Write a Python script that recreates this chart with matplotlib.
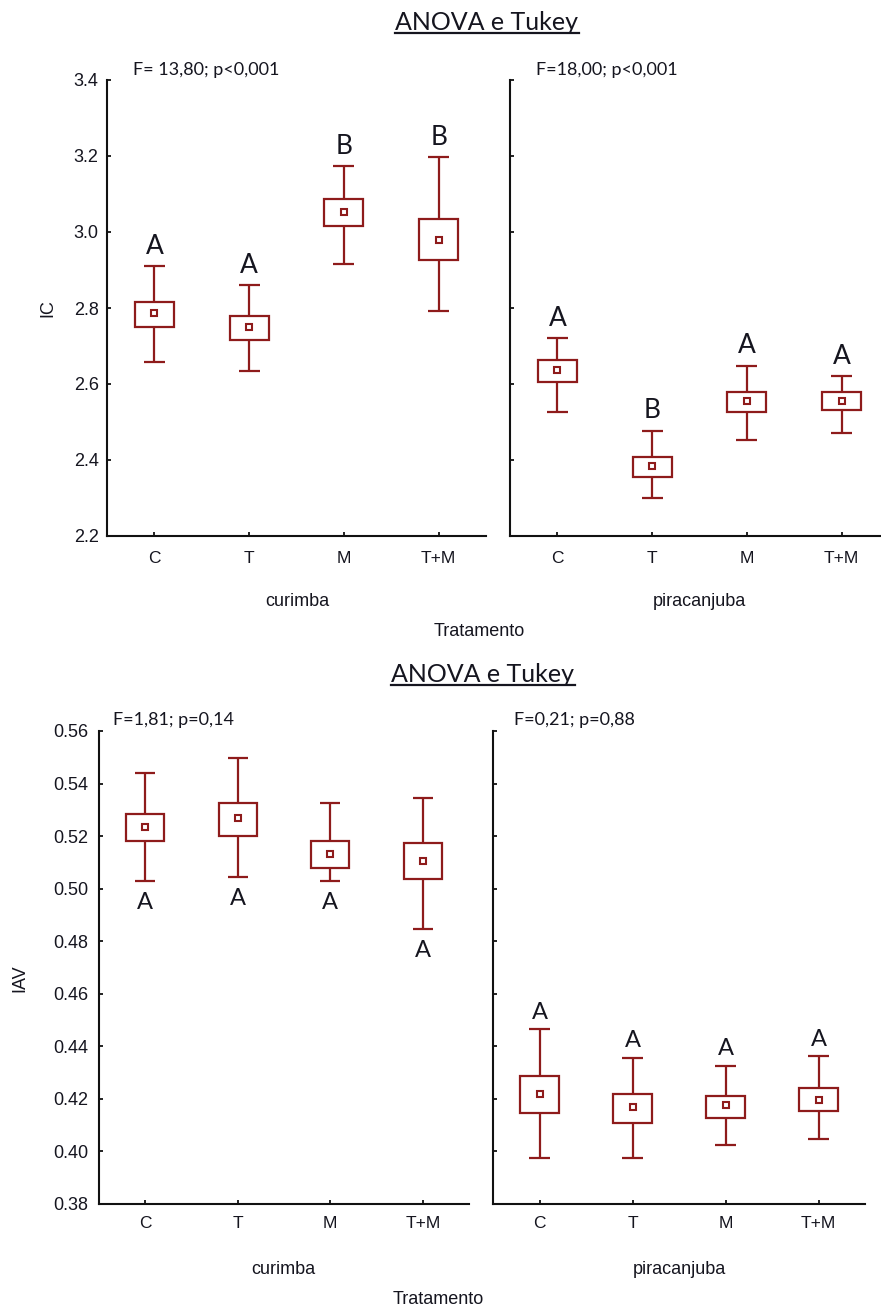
import matplotlib
matplotlib.use('Agg')
import matplotlib.pyplot as plt
from matplotlib.lines import Line2D
import numpy as np

cats = ['C', 'T', 'M', 'T+M']

# IC - curimba
ic_cur_mean = [2.788, 2.749, 3.053, 2.980]
ic_cur_box_lo = [2.749, 2.716, 3.016, 2.926]
ic_cur_box_hi = [2.816, 2.779, 3.086, 3.035]
ic_cur_wlo = [2.658, 2.634, 2.916, 2.791]
ic_cur_whi = [2.911, 2.861, 3.174, 3.197]
ic_cur_let = ['A', 'A', 'B', 'B']

# IC - piracanjuba
ic_pir_mean = [2.638, 2.384, 2.555, 2.555]
ic_pir_box_lo = [2.606, 2.355, 2.527, 2.532]
ic_pir_box_hi = [2.662, 2.408, 2.580, 2.580]
ic_pir_wlo = [2.527, 2.301, 2.453, 2.471]
ic_pir_whi = [2.721, 2.477, 2.648, 2.620]
ic_pir_let = ['A', 'B', 'A', 'A']

# IAV - curimba
iav_cur_mean = [0.5235, 0.5270, 0.5131, 0.5105]
iav_cur_box_lo = [0.5180, 0.5201, 0.5077, 0.5035]
iav_cur_box_hi = [0.5284, 0.5325, 0.5180, 0.5173]
iav_cur_wlo = [0.5030, 0.5043, 0.5030, 0.4845]
iav_cur_whi = [0.5441, 0.5496, 0.5325, 0.5346]
iav_cur_let = ['A', 'A', 'A', 'A']

# IAV - piracanjuba
iav_pir_mean = [0.4217, 0.4169, 0.4175, 0.4197]
iav_pir_box_lo = [0.4147, 0.4108, 0.4128, 0.4153]
iav_pir_box_hi = [0.4287, 0.4217, 0.4211, 0.4240]
iav_pir_wlo = [0.3976, 0.3976, 0.4025, 0.4046]
iav_pir_whi = [0.4465, 0.4356, 0.4326, 0.4362]
iav_pir_let = ['A', 'A', 'A', 'A']

RED = '#8e1b1b'
TXT = '#15151f'
W, H = 881, 1310
TICKFONT = 'Liberation Sans'
ANNFONT = 'Lato'

fig = plt.figure(figsize=(W / 100, H / 100), dpi=100)


def px_axes(x0, x1, ytop, ybot):
    return fig.add_axes([x0 / W, 1 - ybot / H, (x1 - x0) / W, (ybot - ytop) / H])


def panel(ax, mean, blo, bhi, wlo, whi, lets, below, off, lsize, ylim, yticks,
          fmt, ylabels=True, ypad=6, xpad=10):
    x = np.arange(len(cats))
    ax.vlines(x, wlo, whi, color=RED, lw=1.6, zorder=1)
    ax.hlines(wlo, x - 0.11, x + 0.11, color=RED, lw=1.6, zorder=1)
    ax.hlines(whi, x - 0.11, x + 0.11, color=RED, lw=1.6, zorder=1)
    ax.bar(x, np.array(bhi) - np.array(blo), bottom=blo, width=0.41,
           facecolor='white', edgecolor=RED, lw=1.6, zorder=2)
    ax.plot(x, mean, 's', ms=5, mfc='white', mec=RED, mew=1.5, zorder=3)
    for i, l in enumerate(lets):
        if below:
            ax.annotate(l, (x[i], wlo[i]), xytext=(0, -off), textcoords='offset points',
                        ha='center', va='baseline', fontsize=lsize, family=ANNFONT, color=TXT)
        else:
            ax.annotate(l, (x[i], whi[i]), xytext=(0, off), textcoords='offset points',
                        ha='center', va='baseline', fontsize=lsize, family=ANNFONT, color=TXT)
    ax.set_xlim(-0.5, 3.5)
    ax.set_ylim(*ylim)
    ax.set_yticks(yticks)
    ax.set_yticklabels([fmt % v for v in yticks] if ylabels else [])
    ax.set_xticks(x)
    ax.set_xticklabels(cats)
    for s in ['top', 'right']:
        ax.spines[s].set_visible(False)
    for s in ['left', 'bottom']:
        ax.spines[s].set_linewidth(1.5)
        ax.spines[s].set_color('#111111')
    ax.tick_params(direction='in', length=3, width=1.3, colors='#111111')
    ax.tick_params(axis='y', pad=ypad, labelsize=13, labelcolor=TXT)
    ax.tick_params(axis='x', pad=xpad, labelsize=12.5, labelcolor=TXT)
    for t in ax.get_xticklabels() + ax.get_yticklabels():
        t.set_family(TICKFONT)


# ---- top block (IC) ----
ic_ticks = [2.2, 2.4, 2.6, 2.8, 3.0, 3.2, 3.4]
a1 = px_axes(107, 486, 80, 536)
panel(a1, ic_cur_mean, ic_cur_box_lo, ic_cur_box_hi, ic_cur_wlo, ic_cur_whi, ic_cur_let,
      False, 8.5, 19, (2.2, 3.4), ic_ticks, '%.1f', ypad=6, xpad=11)
a2 = px_axes(510, 889, 80, 536)
panel(a2, ic_pir_mean, ic_pir_box_lo, ic_pir_box_hi, ic_pir_wlo, ic_pir_whi, ic_pir_let,
      False, 9, 19, (2.2, 3.4), ic_ticks, '%.1f', ylabels=False, xpad=11)

# ---- bottom block (IAV) ----
iav_ticks = [0.38, 0.40, 0.42, 0.44, 0.46, 0.48, 0.50, 0.52, 0.54, 0.56]
a3 = px_axes(99, 469, 731, 1204)
panel(a3, iav_cur_mean, iav_cur_box_lo, iav_cur_box_hi, iav_cur_wlo, iav_cur_whi, iav_cur_let,
      True, 20, 17, (0.38, 0.56), iav_ticks, '%.2f', ypad=7.5, xpad=9)
a4 = px_axes(493, 865, 731, 1204)
panel(a4, iav_pir_mean, iav_pir_box_lo, iav_pir_box_hi, iav_pir_wlo, iav_pir_whi, iav_pir_let,
      False, 7.5, 17, (0.38, 0.56), iav_ticks, '%.2f', ylabels=False, xpad=9)


def ftext(xp, yp, s, **kw):
    return fig.text(xp / W, 1 - yp / H, s, color=TXT, **kw)


# group labels, axis titles
lab = dict(fontsize=13, family=TICKFONT, ha='center', va='center')
ftext(297, 601, 'curimba', **lab)
ftext(699, 601, 'piracanjuba', **lab)
ftext(479, 631, 'Tratamento', **lab)
ftext(48, 308, 'IC', rotation=90, **lab)
ftext(283, 1269, 'curimba', **lab)
ftext(679, 1269, 'piracanjuba', **lab)
ftext(438, 1299, 'Tratamento', **lab)
ftext(20, 978, 'IAV', rotation=90, **lab)

# statistics
st = dict(fontsize=13, family=ANNFONT, ha='left', va='center')
ftext(133, 70, 'F= 13,80; p<0,001', **st)
ftext(536, 70, 'F=18,00; p<0,001', **st)
ftext(113, 720, 'F=1,81; p=0,14', **st)
ftext(514, 720, 'F=0,21; p=0,88', **st)

# underlined titles
titles = [ftext(487, 30, 'ANOVA e Tukey', fontsize=18, family=ANNFONT, ha='center', va='baseline'),
          ftext(483, 682, 'ANOVA e Tukey', fontsize=18, family=ANNFONT, ha='center', va='baseline')]
fig.canvas.draw()
r = fig.canvas.get_renderer()
for t, yb in zip(titles, [33, 685]):
    bb = t.get_window_extent(r)
    fig.add_artist(Line2D([bb.x0 / W, bb.x1 / W], [1 - yb / H, 1 - yb / H],
                          transform=fig.transFigure, color=TXT, lw=1.6))

fig.savefig('out.png', dpi=100)
